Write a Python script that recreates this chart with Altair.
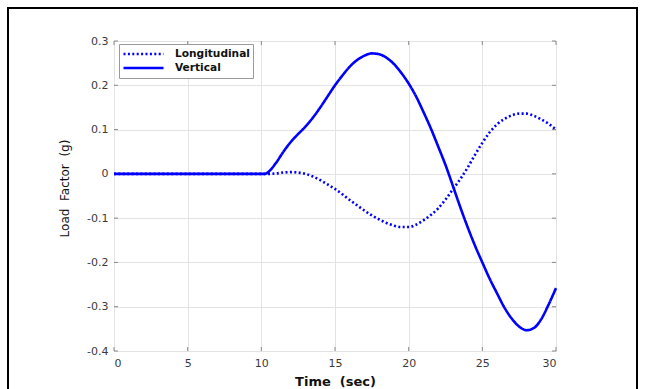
import altair as alt
import pandas as pd

# ---- data ----
time_vert = [0, 10, 10.25, 10.5, 11, 11.5, 12, 12.5, 13, 13.5, 14, 14.5, 15, 15.5, 16, 16.5,
             17, 17.5, 18, 18.5, 19, 19.5, 20, 20.5, 21, 21.5, 22, 22.5, 23, 23.5, 24,
             24.5, 25, 25.5, 26, 26.5, 27, 27.5, 28, 28.5, 29, 29.5, 30]
vertical = [0, 0, 0, 0.005, 0.025, 0.05, 0.072, 0.09, 0.107, 0.127, 0.15, 0.175, 0.2, 0.222,
            0.242, 0.257, 0.267, 0.272, 0.27, 0.262, 0.248, 0.228, 0.204, 0.175, 0.14, 0.103,
            0.062, 0.02, -0.027, -0.075, -0.12, -0.162, -0.2, -0.237, -0.27, -0.302, -0.327,
            -0.345, -0.353, -0.348, -0.328, -0.295, -0.258]

time_long = [0, 10, 10.5, 11, 11.5, 12, 12.5, 13, 13.5, 14, 14.5, 15, 15.5, 16, 16.5, 17,
             17.5, 18, 18.5, 19, 19.5, 20, 20.5, 21, 21.5, 22, 22.5, 23, 23.5, 24, 24.5,
             25, 25.5, 26, 26.5, 27, 27.5, 28, 28.5, 29, 29.5, 30]
longitudinal = [0, 0, 0, 0.001, 0.003, 0.004, 0.003, 0.0, -0.006, -0.014, -0.024, -0.034,
                -0.046, -0.059, -0.071, -0.083, -0.094, -0.103, -0.111, -0.117, -0.12, -0.12,
                -0.115, -0.105, -0.093, -0.078, -0.058, -0.035, -0.012, 0.014, 0.043, 0.07,
                0.094, 0.112, 0.124, 0.132, 0.136, 0.136, 0.131, 0.123, 0.113, 0.1]

series_names = ["Longitudinal", "Vertical"]
x_ticks = [0, 5, 10, 15, 20, 25, 30]
y_ticks = [-0.4, -0.3, -0.2, -0.1, 0, 0.1, 0.2, 0.3]
x_title = "Time\u00a0\u00a0(sec)"
y_title = "Load\u00a0\u00a0Factor\u00a0\u00a0(g)"

rows = [{"t": t, "v": v, "series": "Longitudinal"} for t, v in zip(time_long, longitudinal)]
rows += [{"t": t, "v": v, "series": "Vertical"} for t, v in zip(time_vert, vertical)]
df = pd.DataFrame(rows)

W, H = 442, 310
FONT = "DejaVu Sans"
AX = "#8a8a8a"

x_scale = alt.Scale(domain=[0, 30], nice=False, zero=False)
y_scale = alt.Scale(domain=[-0.4, 0.3], nice=False, zero=False)

x_axis = alt.Axis(values=x_ticks, title=x_title, grid=True, gridColor="#e3e3e3",
                  domain=False, ticks=False, labelPadding=6, labelFont=FONT, labelFontSize=11,
                  labelColor="#3a3a3a", titleFont=FONT, titleFontSize=13, titleFontWeight="bold",
                  titleColor="#111111", titleBaseline="middle", titleY=30, titleX=W / 2)
y_axis = alt.Axis(values=y_ticks, title=y_title, grid=True, gridColor="#e3e3e3",
                  domain=False, ticks=False, labelPadding=6, labelFont=FONT, labelFontSize=11,
                  labelColor="#3a3a3a",
                  labelExpr="replace(format(datum.value, '.1~f'), '\u2212', '-')",
                  titleFont=FONT, titleFontSize=12, titleFontWeight="normal", titleColor="#111111",
                  titleAngle=270, titleBaseline="middle", titleAlign="center",
                  titleX=-50, titleY=147)

frame = alt.Chart(alt.Data(values=[{}])).mark_rect(
    filled=False, stroke="black", strokeWidth=2
).encode(x=alt.value(-106), x2=alt.value(523), y=alt.value(-33), y2=alt.value(362))

lines = alt.Chart(df).mark_line(
    strokeWidth=2.6, color="#0000ff", interpolate="monotone", strokeCap="butt"
).encode(
    x=alt.X("t:Q", scale=x_scale, axis=x_axis),
    y=alt.Y("v:Q", scale=y_scale, axis=y_axis),
    strokeDash=alt.StrokeDash(
        "series:N",
        scale=alt.Scale(domain=series_names, range=[[2, 2.4], [1, 0]]),
        legend=alt.Legend(
            title=None, orient="none", legendX=5, legendY=3,
            fillColor="white", strokeColor="#9a9a9a", padding=3, cornerRadius=0,
            symbolType="stroke", symbolSize=1600, symbolStrokeWidth=2.6,
            symbolStrokeColor="#0000ff", labelFont=FONT, labelFontSize=10.6,
            labelFontWeight="bold", labelColor="#111111", labelOffset=10, rowPadding=0,
            clipHeight=14,
        ),
    ),
    detail="series:N",
)

xt = pd.DataFrame({"t": x_ticks})
yt = pd.DataFrame({"v": y_ticks})
tick_bottom = alt.Chart(xt).mark_rule(color=AX).encode(
    x=alt.X("t:Q", scale=x_scale), y=alt.value(H), y2=alt.value(H - 4))
tick_top = alt.Chart(xt).mark_rule(color=AX).encode(
    x=alt.X("t:Q", scale=x_scale), y=alt.value(0), y2=alt.value(4))
tick_left = alt.Chart(yt).mark_rule(color=AX).encode(
    y=alt.Y("v:Q", scale=y_scale), x=alt.value(0), x2=alt.value(4))
tick_right = alt.Chart(yt).mark_rule(color=AX).encode(
    y=alt.Y("v:Q", scale=y_scale), x=alt.value(W), x2=alt.value(W - 4))

chart = alt.layer(frame, tick_bottom, tick_top, tick_left, tick_right, lines).properties(
    width=W, height=H,
    padding={"left": 114, "top": 41, "right": 645 - 114 - W, "bottom": 389 - 41 - H},
    autosize=alt.AutoSizeParams(type="none"),
).configure_view(stroke=AX, strokeWidth=1).configure(background="white")

chart.save("out.html", embed_options={"renderer": "svg", "actions": False})
